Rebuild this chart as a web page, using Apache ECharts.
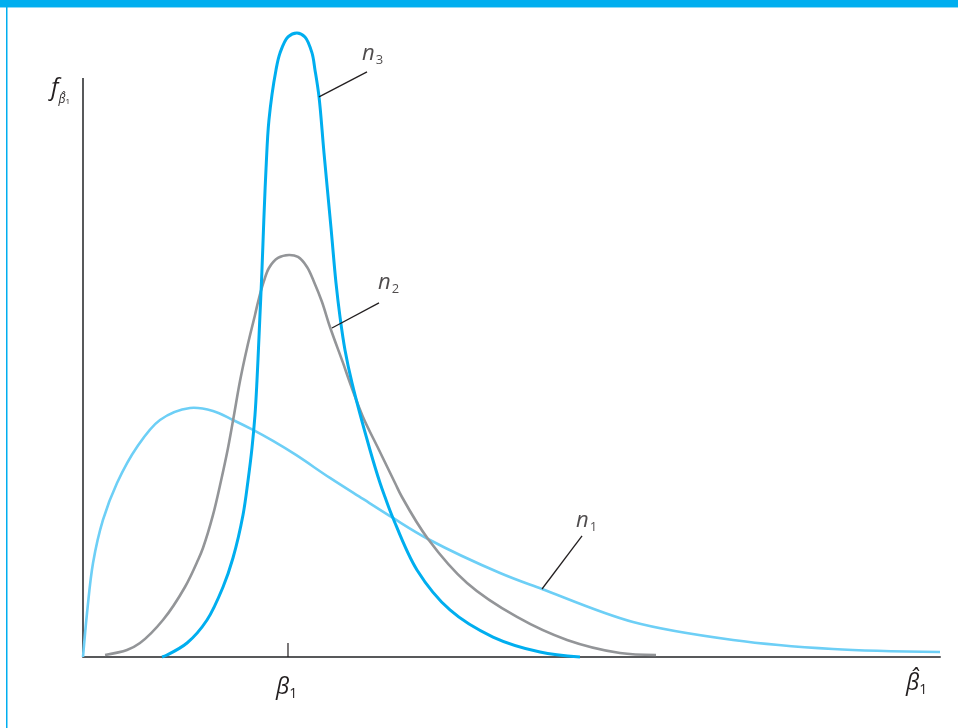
<!DOCTYPE html>
<html>
<head>
<meta charset="utf-8">
<title>Sampling distributions of beta-hat</title>
<script src="https://cdn.jsdelivr.net/npm/echarts@6/dist/echarts.min.js"></script>
<style>
  html, body { margin: 0; padding: 0; background: #fff; }
  #chart { width: 958px; height: 728px; }
</style>
</head>
<body>
<div id="chart"></div>
<script>
// curve points (x: 0-100 along the axis, y: 0-100 up to top of y axis)
var n1X = [0, 0.47, 1.17, 2.33, 3.97, 6.30, 8.98, 12.49, 15.17, 17.50, 19.84, 22.17, 24.85, 28.82, 32.67, 36.17, 40.26, 48.66, 53.56, 64.18, 75.85, 87.51, 100];
var n1Y = [0, 7.60, 16.23, 23.66, 30.05, 36.27, 40.93, 43.01, 42.49, 40.93, 39.21, 37.31, 34.89, 30.92, 27.29, 24.01, 20.38, 14.51, 11.74, 6.04, 2.94, 1.38, 0.86];

var n2X = [2.57, 5.13, 6.65, 9.33, 11.90, 13.42, 14.00, 15.17, 16.10, 16.92, 17.62, 18.32, 19.14, 20.07, 20.54, 21.12, 21.70, 22.75, 24.04, 25.09, 26.14, 26.96, 27.89, 28.82, 30.34, 31.16, 32.67, 34.54, 36.41, 37.22, 40.26, 44.81, 50.64, 56.48, 62.66, 66.86];
var n2Y = [0.35, 1.21, 2.42, 6.39, 12.09, 16.75, 18.83, 24.53, 30.40, 36.10, 41.80, 47.67, 53.37, 59.07, 62.00, 64.94, 67.18, 68.91, 69.43, 69.08, 67.36, 64.77, 61.31, 56.99, 50.78, 47.32, 41.45, 35.75, 30.05, 27.63, 20.38, 12.78, 6.91, 2.94, 0.69, 0.35];

var n3X = [9.22, 9.80, 12.14, 14.47, 16.34, 17.50, 18.67, 19.25, 19.72, 20.07, 20.30, 20.48, 20.65, 20.83, 20.98, 21.10, 21.35, 21.70, 22.52, 22.99, 23.92, 24.97, 25.90, 26.72, 27.07, 27.54, 28.12, 28.94, 29.52, 29.99, 30.57, 31.39, 33.49, 34.66, 35.24, 36.17, 38.97, 42.82, 47.84, 53.33, 57.99];
var n3Y = [0, 0.35, 2.42, 6.39, 12.09, 17.10, 24.53, 30.40, 36.10, 41.80, 47.67, 53.37, 59.07, 64.94, 70.64, 75.47, 84.11, 92.75, 101.38, 104.32, 107.08, 107.77, 107.08, 104.32, 101.38, 96.72, 87.05, 74.09, 64.59, 58.72, 53.02, 47.32, 35.75, 30.05, 27.63, 24.01, 15.03, 8.12, 3.45, 0.86, 0];

var beta1 = 23.92;
// leader lines: [x from, y from, x to, y to]
var lead1 = [53.56, 11.74, 58.23, 20.90];
var lead2 = [29.05, 56.82, 34.54, 61.14];
var lead3 = [27.54, 96.72, 33.14, 101.04];

function zip(xs, ys) {
    var out = [];
    for (var i = 0; i < xs.length; i++) out.push([xs[i], ys[i]]);
    return out;
}

// centripetal catmull-rom through pixel points -> svg path
function splinePath(p) {
    function d(a, b) { return Math.sqrt(Math.sqrt((a[0] - b[0]) * (a[0] - b[0]) + (a[1] - b[1]) * (a[1] - b[1]))); }
    var s = 'M' + p[0][0] + ',' + p[0][1];
    for (var i = 0; i < p.length - 1; i++) {
        var p0 = p[i > 0 ? i - 1 : i], p1 = p[i], p2 = p[i + 1], p3 = p[i + 2 < p.length ? i + 2 : i + 1];
        var l01 = d(p0, p1), l12 = d(p1, p2), l23 = d(p2, p3);
        var c1 = [p1[0], p1[1]], c2 = [p2[0], p2[1]];
        if (l01 > 1e-6) {
            var a = 2 * l01 * l01 + 3 * l01 * l12 + l12 * l12, n = 3 * l01 * (l01 + l12);
            c1 = [(p1[0] * a - p0[0] * l12 * l12 + p2[0] * l01 * l01) / n,
                  (p1[1] * a - p0[1] * l12 * l12 + p2[1] * l01 * l01) / n];
        }
        if (l23 > 1e-6) {
            var b = 2 * l23 * l23 + 3 * l23 * l12 + l12 * l12, m = 3 * l23 * (l23 + l12);
            c2 = [(p2[0] * b + p1[0] * l23 * l23 - p3[0] * l12 * l12) / m,
                  (p2[1] * b + p1[1] * l23 * l23 - p3[1] * l12 * l12) / m];
        }
        s += 'C' + c1[0] + ',' + c1[1] + ' ' + c2[0] + ',' + c2[1] + ' ' + p2[0] + ',' + p2[1];
    }
    return s;
}

function curve(name, xs, ys, color, width, z) {
    return {
        name: name, type: 'custom', silent: true, clip: false, z: z,
        data: zip(xs, ys),
        renderItem: function (params, api) {
            if (params.dataIndex !== 0) return null;
            var pts = xs.map(function (x, i) { return api.coord([x, ys[i]]); });
            return {
                type: 'path',
                shape: { pathData: splinePath(pts) },
                style: { stroke: color, lineWidth: width, fill: null, lineJoin: 'round' }
            };
        }
    };
}

var FONT = '"Open Sans", "Noto Sans", sans-serif';
var INK = '#231F20';

var subRich = {
    n: { fontFamily: FONT, fontStyle: 'italic', fontSize: 22, color: INK, verticalAlign: 'top', lineHeight: 24, padding: [0, 0, 5, 0] },
    s: { fontFamily: FONT, fontSize: 13, color: INK, verticalAlign: 'bottom', lineHeight: 14, padding: [0, 0, 0, 1] }
};

function leader(seg) {
    return {
        type: 'line', silent: true, symbol: 'none',
        lineStyle: { color: INK, width: 1.3 },
        data: [[seg[0], seg[1]], [seg[2], seg[3]]],
        z: 4
    };
}

function tag(seg, sub, off) {
    return {
        value: [seg[2], seg[3]],
        label: { show: true, position: off, formatter: '{n|n}{s|' + sub + '}', rich: subRich }
    };
}

var chart = echarts.init(document.getElementById('chart'));
chart.setOption({
    animation: false,
    grid: { left: 83, right: 18, top: 20, bottom: 71 },
    xAxis: {
        type: 'value', min: 0, max: 100,
        axisLine: { show: true, lineStyle: { color: '#58595B', width: 2 } },
        axisTick: { show: false }, axisLabel: { show: false }, splitLine: { show: false }
    },
    yAxis: {
        type: 'value', min: 0, max: 110,
        axisLine: { show: false }, axisTick: { show: false },
        axisLabel: { show: false }, splitLine: { show: false }
    },
    graphic: [
        { type: 'rect', shape: { x: 0, y: 0, width: 958, height: 7 }, style: { fill: '#00AEEF' } },
        { type: 'rect', shape: { x: 0, y: 7, width: 958, height: 1 }, style: { fill: '#8AD9F7' } },
        { type: 'rect', shape: { x: 6, y: 7, width: 1.5, height: 721 }, style: { fill: '#00AEEF' } },
        {
            type: 'text', left: 51, top: 76,
            style: {
                text: '{f|f}{b|β̂}{o|1}',
                rich: {
                    f: { fontFamily: FONT, fontStyle: 'italic', fontSize: 24, fill: INK, verticalAlign: 'bottom', lineHeight: 26 },
                    b: { fontFamily: FONT, fontStyle: 'italic', fontSize: 12, fill: INK, verticalAlign: 'bottom', lineHeight: 14, padding: [0, 0, -6, 0] },
                    o: { fontFamily: FONT, fontSize: 8, fill: INK, verticalAlign: 'bottom', lineHeight: 10, padding: [0, 0, -6, 0] }
                }
            }
        },
        {
            type: 'text', left: 276, top: 676,
            style: {
                text: '{b|β}{o|1}',
                rich: {
                    b: { fontFamily: FONT, fontStyle: 'italic', fontSize: 23, fill: INK, verticalAlign: 'bottom', lineHeight: 26 },
                    o: { fontFamily: FONT, fontSize: 14, fill: INK, verticalAlign: 'bottom', lineHeight: 16, padding: [0, 0, -2, 0] }
                }
            }
        },
        {
            type: 'text', left: 906, top: 672,
            style: {
                text: '{b|β̂}{o|1}',
                rich: {
                    b: { fontFamily: FONT, fontStyle: 'italic', fontSize: 23, fill: INK, verticalAlign: 'bottom', lineHeight: 30 },
                    o: { fontFamily: FONT, fontSize: 14, fill: INK, verticalAlign: 'bottom', lineHeight: 16, padding: [0, 0, -2, 0] }
                }
            }
        }
    ],
    series: [
        {
            name: 'yaxis', type: 'line', silent: true, symbol: 'none',
            lineStyle: { color: '#58595B', width: 2 },
            data: [[0, 0], [0, 100]], z: 1
        },
        {
            name: 'tick', type: 'line', silent: true, symbol: 'none',
            lineStyle: { color: INK, width: 1.2 },
            data: [[beta1, 0], [beta1, 2.4]], z: 1
        },
        curve('n1', n1X, n1Y, '#6DCFF6', 2.6, 2),
        curve('n2', n2X, n2Y, '#939598', 2.6, 2),
        curve('n3', n3X, n3Y, '#00AEEF', 3, 3),
        leader(lead1),
        leader(lead2),
        leader(lead3),
        {
            name: 'labels', type: 'scatter', silent: true, symbolSize: 0, clip: false,
            data: [tag(lead1, '1', [-6, -26]), tag(lead2, '2', [-1, -31]), tag(lead3, '3', [-5, -29])],
            z: 5
        }
    ]
});
</script>
</body>
</html>
